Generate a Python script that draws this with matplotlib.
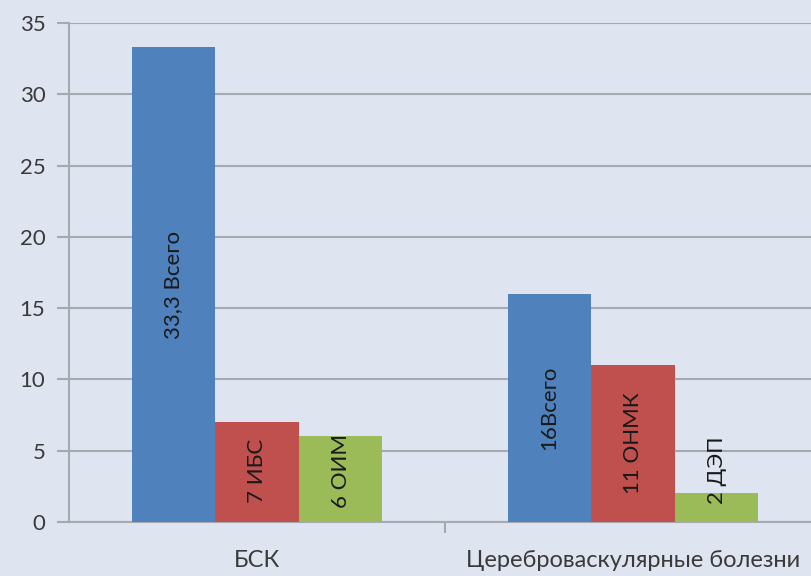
import matplotlib.pyplot as plt
import numpy as np

# данные
categories = ['БСК', 'Цереброваскулярные болезни']
total = [33.3, 16]
sub1 = [7, 11]
sub2 = [6, 2]
labels_total = ['33,3 Всего', '16Всего']
labels_sub1 = ['7 ИБС', '11 ОНМК']
labels_sub2 = ['6 ОИМ', '2 ДЭП']

bg = '#dfe5f0'
grid_c = '#a6a9ae'
txt_c = '#3a3a3a'
colors = ['#4f81bd', '#c0504d', '#9bbb59']

plt.rcParams['font.family'] = ['Lato', 'DejaVu Sans']

fig = plt.figure(figsize=(8.11, 5.76), dpi=100, facecolor=bg)
ax = fig.add_axes([69 / 811, 1 - 522 / 576, 752 / 811, 499 / 576])
ax.set_facecolor(bg)

x = np.arange(len(categories))
w = 1 / 4.5
series = [total, sub1, sub2]
labels = [labels_total, labels_sub1, labels_sub2]
for k in range(3):
    xs = x + (k - 1) * w
    ax.bar(xs, series[k], width=w, color=colors[k], zorder=3)
    for i in range(len(x)):
        v = series[k][i]
        ax.text(xs[i], max(v / 2, 3.6), labels[k][i], rotation=90,
                ha='center', va='center', fontsize=16, color='#1a1a1a', zorder=4)

ax.set_xlim(-0.5, 1.5)
ax.set_ylim(0, 35)
ax.set_yticks(range(0, 36, 5))
ax.set_xticks(x)
ax.set_xticklabels(categories)
ax.set_xticks([0.5], minor=True)
ax.yaxis.grid(True, color=grid_c, linewidth=1.5, zorder=0)
ax.set_axisbelow(True)

for s in ['top', 'right']:
    ax.spines[s].set_visible(False)
ax.spines['left'].set_color(grid_c)
ax.spines['bottom'].set_color(grid_c)
ax.spines['left'].set_linewidth(1.5)
ax.spines['bottom'].set_linewidth(1.5)

ax.tick_params(axis='y', length=9, width=1.5, color=grid_c, labelsize=16, labelcolor=txt_c, pad=8)
ax.tick_params(axis='x', which='major', length=0, labelsize=17, labelcolor=txt_c, pad=20)
ax.tick_params(axis='x', which='minor', length=8, width=1.5, color=grid_c)

fig.savefig('out.png', dpi=100, facecolor=bg)
